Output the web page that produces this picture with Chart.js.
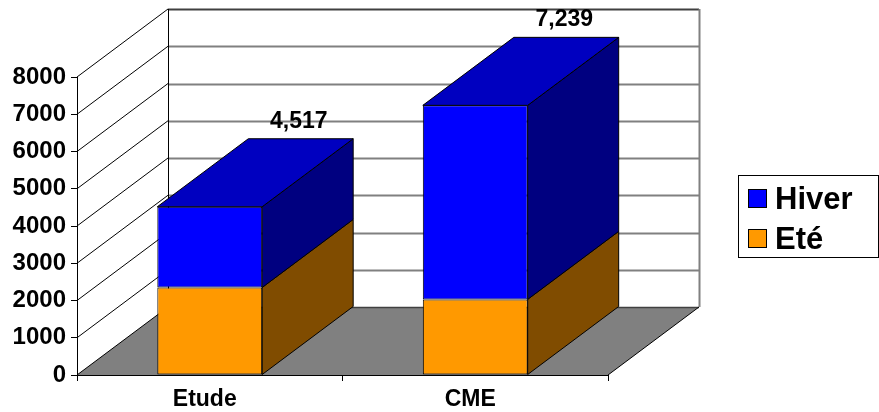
<!DOCTYPE html>
<html><head><meta charset="utf-8">
<script src="https://cdn.jsdelivr.net/npm/chart.js@4/dist/chart.umd.min.js"></script>
<style>html,body{margin:0;padding:0;background:#fff;}#wrap{width:879px;height:412px;}</style>
</head><body><div id="wrap"><canvas id="c" width="879" height="412"></canvas></div>
<script>
// ---- data ----
const categories = ['Etude', 'CME'];
const eteValues = [2350, 2030];
const hiverValues = [2167, 5209];
const seriesNames = ['Eté', 'Hiver'];
const yTickValues = [0, 1000, 2000, 3000, 4000, 5000, 6000, 7000, 8000];

// ---- styles ----
const FONT = '"Liberation Sans", Arial, sans-serif';
const DX = 91, DY = -68;
const frontColors = ['#FF9900', '#0000FF'];
const sideColors = ['#804C00', '#000080'];
const topColors = ['#C07200', '#0000C0'];

function poly(ctx, pts, fill, stroke) {
  ctx.beginPath();
  ctx.moveTo(pts[0][0], pts[0][1]);
  for (let i = 1; i < pts.length; i++) ctx.lineTo(pts[i][0], pts[i][1]);
  ctx.closePath();
  if (fill) { ctx.fillStyle = fill; ctx.fill(); }
  if (stroke) { ctx.strokeStyle = stroke; ctx.lineWidth = 1; ctx.stroke(); }
}
function line(ctx, x1, y1, x2, y2, color, w) {
  ctx.beginPath(); ctx.moveTo(x1, y1); ctx.lineTo(x2, y2);
  ctx.strokeStyle = color; ctx.lineWidth = w || 1; ctx.stroke();
}

const wallsPlugin = {
  id: 'walls',
  beforeDraw(chart) {
    const ctx = chart.ctx, a = chart.chartArea, ys = chart.scales.y;
    const L = a.left, R = a.right, B = a.bottom;
    const yTop = ys.getPixelForValue(yTickValues[yTickValues.length - 1]);
    ctx.save();
    poly(ctx, [[L, B], [R, B], [R + DX, B + DY], [L + DX, B + DY]], '#808080', null);
    yTickValues.forEach(v => {
      if (v === 0) return;
      const y = Math.round(ys.getPixelForValue(v) + DY) + 0.5;
      if (v === yTickValues[yTickValues.length - 1]) line(ctx, L + DX, y, R + DX, y, '#404040', 2);
      else line(ctx, L + DX, y, R + DX, y, '#808080', 2);
    });
    line(ctx, L + DX, B + DY + 0.5, R + DX, B + DY + 0.5, '#404040', 1.5);
    line(ctx, R + DX + 0.5, yTop + DY, R + DX + 0.5, B + DY, '#808080', 2);
    line(ctx, L + DX + 0.5, yTop + DY, L + DX + 0.5, B + DY, '#000', 1);
    yTickValues.forEach(v => {
      const y = ys.getPixelForValue(v);
      line(ctx, L, y, L + DX, y + DY, '#000', 1);
    });
    line(ctx, R, B, R + DX, B + DY, '#000', 1);
    ctx.restore();
  }
};

const barsPlugin = {
  id: 'bars3d',
  beforeDatasetsDraw(chart) {
    const ctx = chart.ctx;
    const n = chart.data.datasets.length;
    ctx.save();
    for (let i = 0; i < n; i++) {
      const meta = chart.getDatasetMeta(i);
      meta.data.forEach(el => {
        const p = el.getProps(['x', 'y', 'base', 'width'], true);
        const l = p.x - p.width / 2, r = p.x + p.width / 2, t = p.y, b = p.base;
        poly(ctx, [[r, b], [r + DX, b + DY], [r + DX, t + DY], [r, t]], sideColors[i], '#000');
        if (i === n - 1) poly(ctx, [[l, t], [r, t], [r + DX, t + DY], [l + DX, t + DY]], topColors[i], '#000');
      });
    }
    ctx.restore();
  },
  afterDraw(chart) {
    const ctx = chart.ctx;
    const n = chart.data.datasets.length;
    const topMeta = chart.getDatasetMeta(n - 1);
    ctx.save();
    ctx.font = 'bold 23px ' + FONT;
    ctx.fillStyle = '#000';
    ctx.textAlign = 'center';
    ctx.textBaseline = 'alphabetic';
    topMeta.data.forEach((el, j) => {
      const total = chart.data.datasets.reduce((s, d) => s + d.data[j], 0);
      const p = el.getProps(['x', 'y'], true);
      ctx.fillText(total.toLocaleString('en-US'), p.x + DX - 2, p.y + DY - 11);
    });
    const bx = 738, by = 175, bw = 140, bh = 82;
    ctx.strokeStyle = '#000'; ctx.lineWidth = 1;
    ctx.strokeRect(bx + 0.5, by + 0.5, bw, bh);
    ctx.font = 'bold 31px ' + FONT;
    ctx.textAlign = 'left';
    ctx.textBaseline = 'middle';
    const order = [n - 1, 0];
    const rowY = [199, 239];
    order.forEach((di, k) => {
      const ds = chart.data.datasets[di];
      ctx.fillStyle = ds.backgroundColor;
      ctx.fillRect(748, rowY[k] - 10, 18, 18);
      ctx.strokeStyle = '#000';
      ctx.strokeRect(748.5, rowY[k] - 9.5, 18, 18);
      ctx.fillStyle = '#000';
      ctx.fillText(ds.label, 775, rowY[k] + 1);
    });
    ctx.restore();
  }
};

new Chart(document.getElementById('c'), {
  type: 'bar',
  data: {
    labels: categories,
    datasets: [
      { label: seriesNames[0], data: eteValues, backgroundColor: frontColors[0], borderColor: '#000', borderWidth: 1, borderSkipped: false },
      { label: seriesNames[1], data: hiverValues, backgroundColor: frontColors[1], borderColor: '#000', borderWidth: 1, borderSkipped: false }
    ]
  },
  options: {
    responsive: false,
    animation: false,
    events: [],
    layout: { padding: { top: 77, right: 271, left: 0, bottom: 0 } },
    datasets: { bar: { barPercentage: 0.395, categoryPercentage: 1 } },
    plugins: { legend: { display: false }, tooltip: { enabled: false } },
    scales: {
      x: {
        stacked: true,
        afterFit(s) { s.height = 37; },
        grid: { drawOnChartArea: false, drawTicks: true, tickLength: 6, color: '#000', offset: true },
        border: { display: true, color: '#000', width: 1 },
        ticks: { color: '#000', font: { family: FONT, size: 23, weight: 'bold' }, padding: 5, labelOffset: -5 }
      },
      y: {
        stacked: true,
        min: yTickValues[0], max: yTickValues[yTickValues.length - 1],
        afterFit(s) { s.width = 77; },
        afterBuildTicks(s) { s.ticks = yTickValues.map(v => ({ value: v })); },
        grid: { drawOnChartArea: false, drawTicks: true, tickLength: 6, color: '#000' },
        border: { display: true, color: '#000', width: 1 },
        ticks: { color: '#000', font: { family: FONT, size: 24, weight: 'bold' }, padding: 5, callback: v => String(v) }
      }
    }
  },
  plugins: [wallsPlugin, barsPlugin]
});
</script></body></html>
